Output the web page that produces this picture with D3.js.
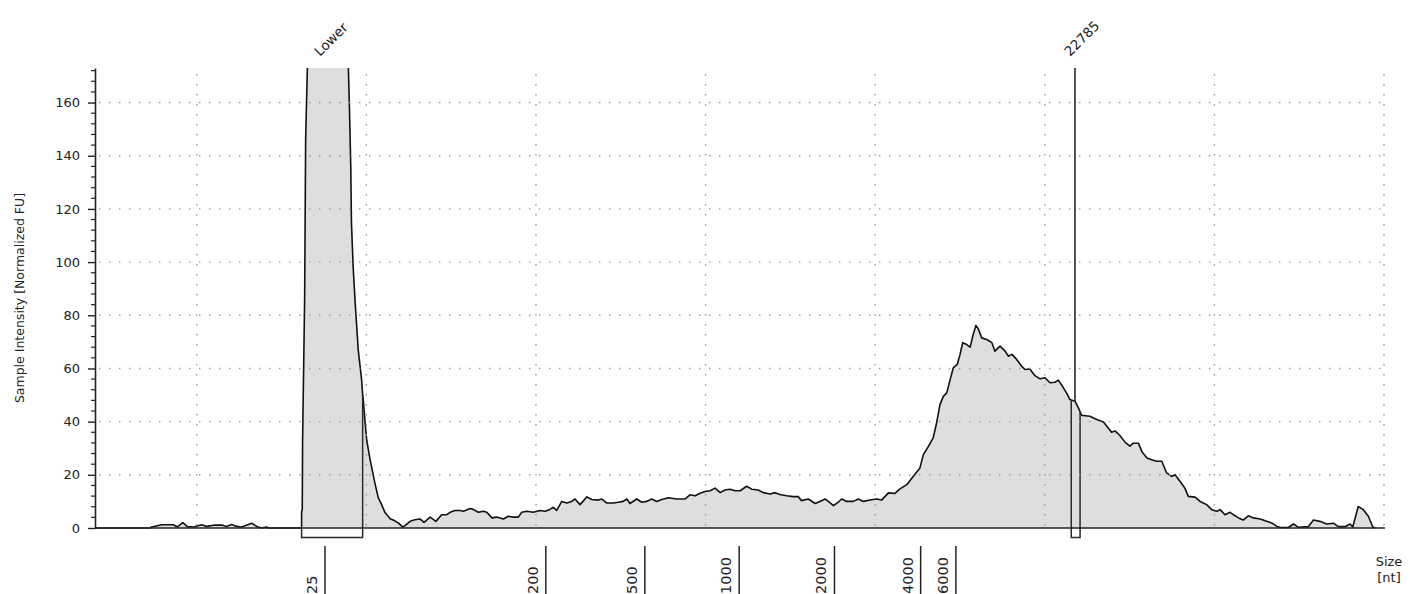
<!DOCTYPE html>
<html><head><meta charset="utf-8">
<script src="https://cdn.jsdelivr.net/npm/d3@7"></script>
<style>
body{margin:0;background:#fff}
svg{display:block}
text{font-family:"DejaVu Sans",Verdana,sans-serif;fill:#222}
</style>
</head><body>
<svg id="chart" width="1410" height="594"></svg>
<script>
// ---- data (time in seconds, intensity in normalized FU) ----
const times = [
22.00,23.62,23.67,23.97,24.31,24.43,24.59,24.72,24.90,25.15,25.29,25.54,25.74,25.88,26.03,26.18,26.32,26.62,26.77,26.91,27.06,27.11,28.09,
28.09,28.11,28.12,28.18,28.21,28.26,28.34,28.63,29.08,29.37,29.47,29.50,29.54,29.56,29.61,29.67,29.76,29.86,29.89,29.91,29.96,
30.01,30.11,30.25,30.35,30.45,30.55,30.70,30.84,30.94,31.07,31.14,31.29,31.43,31.58,31.70,31.88,32.05,32.22,32.37,32.47,32.61,32.76,32.86,
33.06,33.15,33.30,33.45,33.55,33.70,33.84,34.04,34.18,34.33,34.48,34.58,34.73,34.92,35.12,35.27,35.41,35.51,35.61,35.76,35.91,
36.05,36.15,36.30,36.50,36.64,36.84,36.94,37.09,37.28,37.43,37.57,37.68,37.77,37.97,38.12,38.26,38.41,38.56,38.71,38.90,39.15,39.39,39.54,39.69,39.84,39.98,
40.13,40.28,40.43,40.57,40.72,40.87,41.02,41.21,41.36,41.55,41.70,41.90,42.05,42.19,42.39,42.59,42.73,42.83,43.03,43.23,43.37,43.52,43.62,43.77,43.91,
44.01,44.16,44.36,44.50,44.65,44.85,45.05,45.19,45.39,45.58,45.73,45.93,46.12,46.32,46.42,46.57,46.71,46.81,46.91,47.01,47.11,47.21,47.30,47.42,47.50,47.58,47.70,47.80,47.88,47.97,
48.04,48.14,48.29,48.44,48.53,48.68,48.83,48.93,49.03,49.17,49.32,49.42,49.56,49.71,49.86,50.01,50.15,50.30,50.40,50.53,50.65,50.74,50.89,50.99,51.09,51.14,51.33,51.53,51.73,51.87,51.97,
52.07,52.22,52.37,52.51,52.61,52.76,52.86,53.01,53.15,53.30,53.45,53.59,53.74,53.84,53.99,54.13,54.23,54.43,54.58,54.77,54.92,55.07,55.17,55.31,55.46,55.56,55.71,55.85,
56.00,56.15,56.35,56.54,56.69,56.84,56.94,57.18,57.33,57.47,57.77,57.92,58.11,58.31,58.51,58.65,58.85,59.00,59.08,59.24,59.39,59.54,59.67,59.74
];
const intensities = [
0,0,0.4,1.2,1.2,0.4,2.0,0.5,0.4,1.2,0.6,1.1,1.1,0.6,1.3,0.6,0.4,1.8,0.6,0,0.4,0,0,
6,7,33,86,146,173,215,255,245,222,173,158.5,136,115,98.3,84.7,67,55.7,50,48,40,
33,25.7,17,11.4,8.8,5.8,3.5,2.7,1.9,0.4,0.9,2.5,3.1,3.4,2.1,4.1,2.5,5,5,5.9,6.6,6.6,6.3,
7.3,7,5.9,6.3,5.9,3.8,4.1,3.4,4.4,4.1,4.1,5.9,6.3,5.9,6.6,6.3,7,7.8,6.6,10,9.4,
10,10.9,8.8,11.7,10.7,10.5,10.9,9.4,9.4,9.7,10,10.9,9.2,10.9,9.7,10,10.9,10,10.7,11.4,10.9,10.9,12.5,12.1,13.1,13.7,
14,15,13.3,14.3,14.6,14,14,15.7,14.6,14.3,13.3,12.8,13.3,12.6,12.1,11.8,11.8,10.3,10.9,9.2,10,10.9,10,8.4,9.7,
10.9,10,10,10.9,10,10.5,10.9,10.5,13.2,13,14.7,16.3,19.4,22.6,27.6,30.7,33.9,39.5,46.4,49.5,50.8,55.8,60.2,61.5,65.2,69.7,69,68,72.4,76.2,
74.9,71.5,70.9,69.7,66.5,68.4,66.5,64.6,65.3,63.4,60.8,59.6,59.8,57.3,56.1,56.5,54.6,54.8,55.6,53.1,50.6,48.3,47.7,45.2,42.3,42.3,42,40.8,39.9,37.6,36,
36.5,34.7,32.2,30.8,31.9,31.9,28.8,26.3,25.7,25.1,25.1,20.7,19.4,20,17.5,15,11.9,11.6,10,8.8,6.9,6.3,6.9,5,5.9,5,3.8,3,
4.6,3.8,3.4,2.5,1.9,0.6,0.3,0.2,1.5,0.3,0.5,3,2.5,1.5,1.8,0.5,0.5,1.5,0.4,8.1,6.9,4.4,0.4,0
];
const yTickValues = [0,20,40,60,80,100,120,140,160];
const gridTimes = [25,30,35,40,45,50,55,60];
const ladderLabels = ["25","200","500","1000","2000","4000","6000"];
const ladderTimes = [28.78,35.29,38.21,40.99,43.80,46.34,47.38];
const markerLabels = ["Lower","22785"];
const markerTimes = [28.78,50.89];
const markerStarts = [28.09,50.78];
const markerEnds = [29.89,51.04];
const xDomain = [22,60];
const yDomain = [0,173];
const yTitle = "Sample Intensity [Normalized FU]";
const xTitle = ["Size","[nt]"];

// ---- layout ----
const L = 95, R = 1384, T = 68, B = 528;
const x = d3.scaleLinear().domain(xDomain).range([L, R]);
const y = d3.scaleLinear().domain(yDomain).range([B, T]);
const svg = d3.select("#chart");
const data = times.map((t,i)=>({t, v: intensities[i]}));

function valueAt(t){
  const i = d3.bisector(d=>d.t).left(data, t);
  if (i<=0) return data[0].v;
  if (i>=data.length) return data[data.length-1].v;
  const a = data[i-1], b = data[i];
  if (b.t===a.t) return b.v;
  return a.v + (b.v-a.v)*(t-a.t)/(b.t-a.t);
}

svg.append("clipPath").attr("id","clip").append("rect")
  .attr("x", L).attr("y", T).attr("width", R-L+2).attr("height", B-T+12);

const plot = svg.append("g").attr("clip-path","url(#clip)");

// area fill
plot.append("path").datum(data)
  .attr("fill","#dedede")
  .attr("d", d3.area().x(d=>x(d.t)).y0(y(0)).y1(d=>y(d.v)));

// grid
const grid = svg.append("g").attr("stroke","#9a9a9a").attr("stroke-width",1.4).attr("stroke-dasharray","1.4 8.6");
grid.selectAll("line.h").data(yTickValues.filter(v=>v>0)).join("line")
  .attr("x1", L+4).attr("x2", R).attr("y1", d=>y(d)).attr("y2", d=>y(d));
grid.selectAll("line.v").data(gridTimes).join("line")
  .attr("x1", d=>x(d)).attr("x2", d=>x(d)).attr("y1", T+6).attr("y2", B);

// trace line
plot.append("path").datum(data)
  .attr("fill","none").attr("stroke","#111").attr("stroke-width",1.6)
  .attr("stroke-linejoin","round")
  .attr("d", d3.line().x(d=>x(d.t)).y(d=>y(d.v)));

// marker boxes and lines
const yBox = B + 9.5;
markerLabels.forEach((lab,i)=>{
  const xs = x(markerStarts[i]), xe = x(markerEnds[i]);
  plot.append("path")
    .attr("fill","none").attr("stroke","#2a2a2a").attr("stroke-width",1.5)
    .attr("d", `M${xs},${Math.max(T,y(valueAt(markerStarts[i])))}V${yBox}H${xe}V${Math.max(T,y(valueAt(markerEnds[i])))}`);
  const vm = y(valueAt(markerTimes[i]));
  if (vm > T) {
    plot.append("line").attr("x1", x(markerTimes[i])).attr("x2", x(markerTimes[i]))
      .attr("y1", T).attr("y2", vm).attr("stroke","#2a2a2a").attr("stroke-width",1.6);
  }
  svg.append("text").attr("transform",`translate(${x(markerTimes[i])-5},57) rotate(-45)`)
    .attr("font-size",13.5).attr("fill","#333").text(lab);
});

// baseline (x axis)
svg.append("line").attr("x1", L).attr("x2", R+1).attr("y1", B).attr("y2", B)
  .attr("stroke","#222").attr("stroke-width",1.6);

// y axis
const yAxis = svg.append("g").attr("transform",`translate(${L},0)`)
  .call(d3.axisLeft(y).tickValues(yTickValues).tickSize(7).tickPadding(8).tickSizeOuter(0));
yAxis.select(".domain").attr("stroke","#222").attr("stroke-width",1.6);
yAxis.selectAll(".tick line").attr("stroke","#222").attr("stroke-width",1.4);
yAxis.selectAll("text").attr("font-size",13).attr("font-family","DejaVu Sans").attr("fill","#222");
const minor = d3.range(0, 174, 4).filter(v=>v%20!==0);
svg.append("g").selectAll("line").data(minor).join("line")
  .attr("x1", L-4).attr("x2", L).attr("y1", d=>y(d)).attr("y2", d=>y(d))
  .attr("stroke","#222").attr("stroke-width",1.2);

// y title
svg.append("text").attr("transform","translate(24,298) rotate(-90)")
  .attr("text-anchor","middle").attr("font-size",12.5).attr("fill","#333").text(yTitle);

// size ladder ticks
const lad = svg.append("g");
ladderTimes.forEach((t,i)=>{
  lad.append("line").attr("x1", x(t)).attr("x2", x(t)).attr("y1", 546).attr("y2", 594)
    .attr("stroke","#222").attr("stroke-width",1.5);
  lad.append("text").attr("transform",`translate(${x(t)-8},594) rotate(-90)`)
    .attr("font-size",14.5).attr("fill","#222").text(ladderLabels[i]);
});

// x title
svg.append("text").attr("x",1389).attr("y",566).attr("text-anchor","middle").attr("font-size",13).text(xTitle[0]);
svg.append("text").attr("x",1389).attr("y",582).attr("text-anchor","middle").attr("font-size",13).text(xTitle[1]);
</script>
</body></html>
